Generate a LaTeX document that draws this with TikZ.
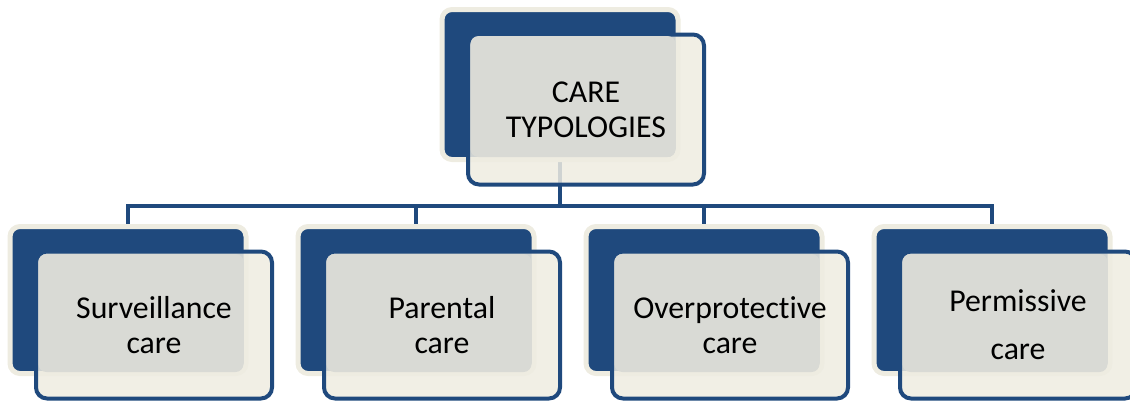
\documentclass[tikz,border=0pt]{standalone}
\usepackage{fontspec}
\setmainfont{Carlito}[Ligatures=NoCommon]
\usepackage{xcolor}
\usepackage{tikz}
\usetikzlibrary{positioning, backgrounds}

\definecolor{careblue}{HTML}{1F497D}
\definecolor{carebeige}{HTML}{EEECE1}
\definecolor{caregray}{HTML}{D9DAD5}

\begin{document}
\begin{tikzpicture}[x=1pt, y=-1pt,
	backbox/.style={rectangle, rounded corners=10pt, fill=careblue, draw=carebeige, line width=5pt, minimum width=236pt, minimum height=150pt, inner sep=0pt},
	frontbox/.style={rectangle, rounded corners=11pt, fill=carebeige, fill opacity=0.85, draw=careblue, line width=4pt, minimum width=236pt, minimum height=150pt, inner sep=0pt},
	glassbox/.style={rectangle, rounded corners=8pt, fill=caregray, minimum width=205pt, minimum height=121pt, inner sep=0pt},
	typo/.style={align=center, text=black, font=\fontsize{31.8}{35}\selectfont},
	link/.style={draw=careblue, line width=4.5pt}]
	\useasboundingbox (0,0) rectangle (1130,400);
	\clip (0,0) rectangle (1130,400);

	% root
	\node[backbox] at (560,84.5) (topback) {};
	\node[frontbox] at (586,109.5) (topfront) {};
	\node[glassbox] at (573,96.5) (topglass) {};
	\node[typo] at (topfront.center) (toptext) {CARE\\TYPOLOGIES};

	% children
	\node[backbox, minimum height=147pt] at (128,300) (survback) {};
	\node[frontbox, minimum height=147pt] at (154,325) (survfront) {};
	\node[glassbox, minimum height=118pt] at (141,313) (survglass) {};
	\node[typo] at (survfront.center) (survtext) {Surveillance\\care};

	\node[backbox, minimum height=147pt] at (416,300) (parback) {};
	\node[frontbox, minimum height=147pt] at (442,325) (parfront) {};
	\node[glassbox, minimum height=118pt] at (429,313) (parglass) {};
	\node[typo] at (parfront.center) (partext) {Parental\\care};

	\node[backbox, minimum height=147pt] at (704,300) (overback) {};
	\node[frontbox, minimum height=147pt] at (730,325) (overfront) {};
	\node[glassbox, minimum height=118pt] at (717,313) (overglass) {};
	\node[typo] at (overfront.center) (overtext) {Overprotective\\care};

	\node[backbox, minimum height=147pt] at (992,300) (permback) {};
	\node[frontbox, minimum height=147pt] at (1018,325) (permfront) {};
	\node[glassbox, minimum height=118pt] at (1005,313) (permglass) {};
	\node[typo] at (permfront.center) (permtext) {Permissive\\[13pt]care};

	% tree lines behind the boxes
	\begin{scope}[on background layer]
		\draw[link] (topback.center) -- ++(0,122.5);
		\draw[link] (survback.north) -- ++(0,-18) -| (permback.north);
		\draw[link] (parback.north) -- ++(0,-18);
		\draw[link] (overback.north) -- ++(0,-18);
	\end{scope}
\end{tikzpicture}
\end{document}
